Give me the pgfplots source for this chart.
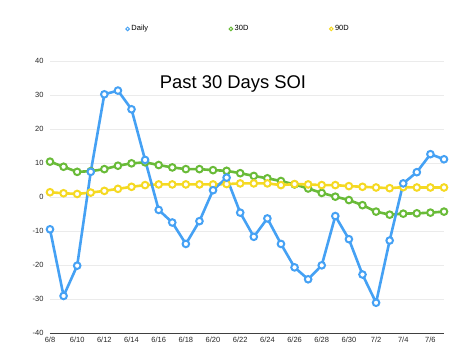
\documentclass[border=0pt]{standalone}
\usepackage{fontspec}
\setmainfont{Liberation Sans}
\usepackage{pgfplots}
\usepackage{pgfplotstable}
\pgfplotsset{compat=1.18}
\definecolor{cdaily}{HTML}{45A1F4}
\definecolor{cthirty}{HTML}{69BB38}
\definecolor{cninety}{HTML}{F5D922}
\pgfplotstableread{
x d m30 m90
0 -9.5 10.4 1.4
1 -29.1 8.9 1.1
2 -20.2 7.4 0.9
3 7.4 7.6 1.3
4 30.2 8.2 1.8
5 31.3 9.2 2.4
6 25.8 9.9 3.0
7 10.9 10.2 3.5
8 -3.8 9.4 3.7
9 -7.5 8.7 3.7
10 -13.8 8.2 3.7
11 -7.1 8.2 3.7
12 2.0 7.9 3.7
13 5.7 7.7 3.8
14 -4.6 7.0 4.0
15 -11.7 6.2 4.0
16 -6.3 5.5 4.0
17 -13.8 4.7 3.5
18 -20.7 3.7 3.8
19 -24.2 2.5 3.7
20 -20.1 1.2 3.5
21 -5.6 0.1 3.5
22 -12.4 -0.9 3.2
23 -22.8 -2.4 3.0
24 -31.1 -4.3 2.8
25 -12.8 -5.2 2.6
26 4.0 -4.9 2.9
27 7.3 -4.8 2.8
28 12.6 -4.6 2.8
29 11.1 -4.3 2.8
}\soi
\begin{document}
\begin{tikzpicture}[x=1pt,y=1pt]
\begin{axis}[
  at={(50pt,23pt)}, anchor=south west, scale only axis,
  width=394pt, height=272pt,
  xmin=0, xmax=29, ymin=-40, ymax=40,
  ytick={-40,-30,...,40},
  xtick={0,2,...,28},
  xticklabels={6/8,6/10,6/12,6/14,6/16,6/18,6/20,6/22,6/24,6/26,6/28,6/30,7/2,7/4,7/6},
  axis x line*=bottom, axis y line*=left,
  y axis line style={draw=none},
  x axis line style={draw=black!75, line width=0.9pt, -},
  major tick length=0pt,
  ymajorgrids, grid style={draw=black!8, line width=0.8pt},
  tick label style={font=\fontsize{7.5}{9}\selectfont, text=black!85},
  xticklabel style={yshift=-1pt},
  yticklabel style={xshift=-3pt},
  /pgf/number format/assume math mode=true,
  clip=false,
  legend style={at={(0.478,1.118)}, anchor=center, draw=none, fill=none,
    font=\fontsize{7.5}{9}\selectfont, legend columns=3,
    /tikz/every even column/.append style={column sep=79pt}},
  legend image code/.code={\draw[#1] plot coordinates {(3pt,0pt)};},
]
\addlegendimage{mark=*, mark size=1.8pt, mark options={fill=white, draw=cdaily, line width=1pt}}
\addlegendentry{Daily}
\addlegendimage{mark=*, mark size=1.8pt, mark options={fill=white, draw=cthirty, line width=1pt}}
\addlegendentry{30D}
\addlegendimage{mark=*, mark size=1.8pt, mark options={fill=white, draw=cninety, line width=1pt}}
\addlegendentry{90D}
\addplot[forget plot, cthirty, line width=2.6pt, mark=*, mark size=3.3pt, mark options={fill=white, draw=cthirty, line width=2pt}] table[x=x, y=m30] {\soi};
\addplot[forget plot, cninety, line width=2.6pt, mark=*, mark size=3.3pt, mark options={fill=white, draw=cninety, line width=2pt}] table[x=x, y=m90] {\soi};
\addplot[forget plot, cdaily, line width=2.6pt, mark=*, mark size=3.3pt, mark options={fill=white, draw=cdaily, line width=2pt}] table[x=x, y=d] {\soi};
\node[anchor=base, font=\fontsize{18.4}{22}\selectfont] at (axis cs:13.47,31.8) {Past 30 Days SOI};
\end{axis}
\pgfresetboundingbox
\path (0pt,0pt) rectangle (460pt,356pt);
\end{tikzpicture}
\end{document}
